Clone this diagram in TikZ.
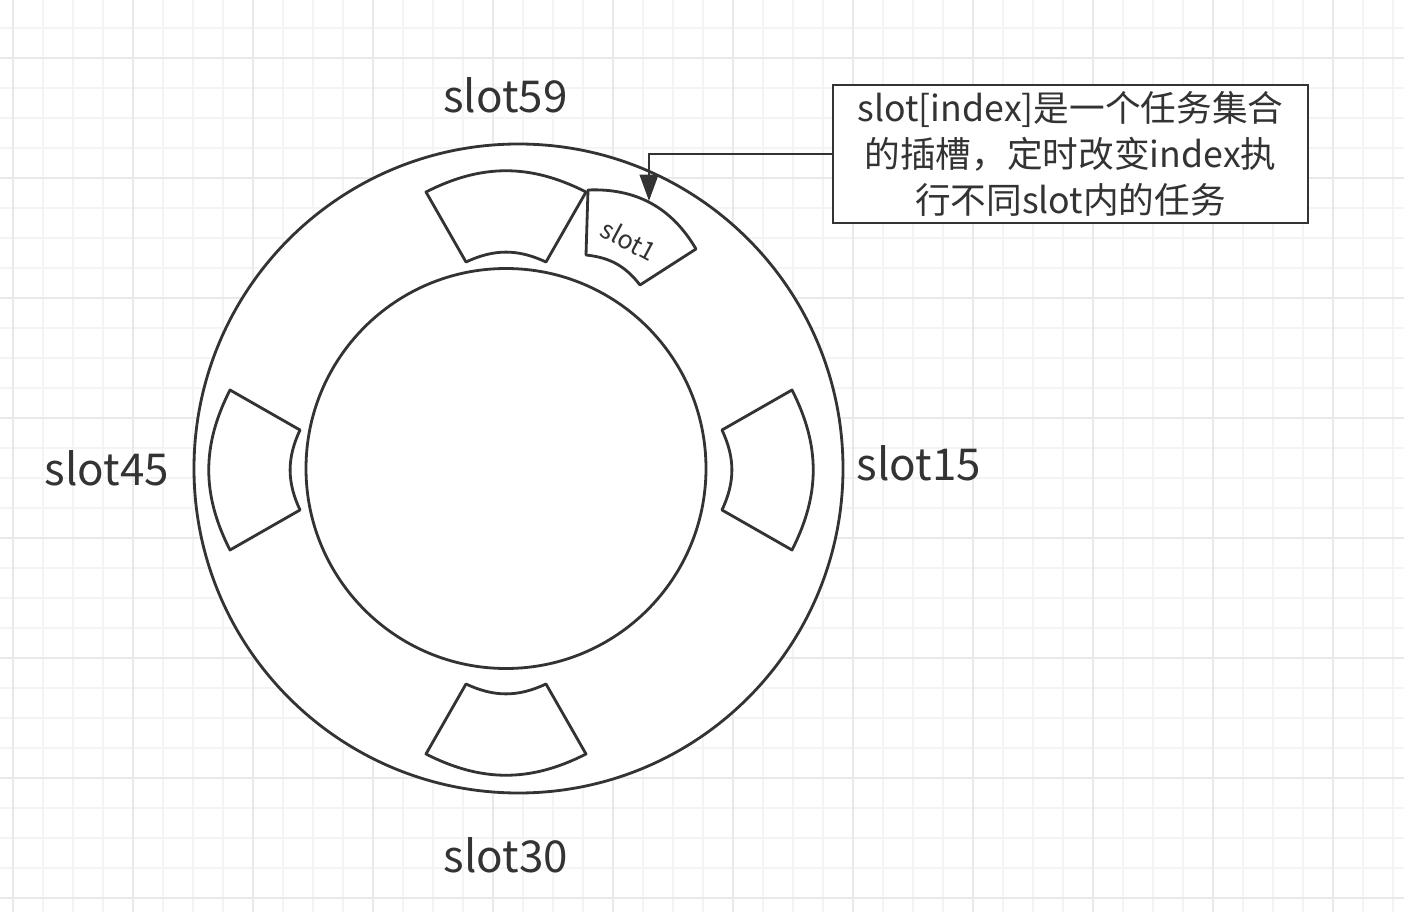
\documentclass[tikz,border=0pt]{standalone}
\usepackage{fontspec}
\setmainfont{Noto Sans CJK SC}
\usetikzlibrary{arrows.meta}
\definecolor{ink}{HTML}{333333}

\begin{document}
\begin{tikzpicture}[x=0.02cm,y=-0.02cm,line width=1.6pt,color=ink]
	  \tikzstyle{gridline}=[draw=gray!9,line width=1pt]
	  \tikzstyle{gridmajor}=[draw=gray!17,line width=1pt]
	  \tikzstyle{ring}=[draw=ink,fill=white,line join=round]
	  \tikzstyle{slotname}=[anchor=base,font=\fontsize{25}{28}\selectfont]
	  \tikzstyle{note}=[draw=ink,fill=white,inner sep=0pt,align=center,minimum width=9.5cm,minimum height=2.76cm,font=\fontsize{20.3}{26.4}\selectfont]

	  \useasboundingbox (0,0) rectangle (1404,912);
	  % background grid
	  \foreach \x in {13,43,...,1403} \draw[gridline] (\x,0) -- (\x,912);
	  \foreach \y in {28,58,...,898} \draw[gridline] (0,\y) -- (1404,\y);
	  \foreach \x in {13,133,...,1333} \draw[gridmajor] (\x,0) -- (\x,912);
	  \foreach \y in {58,178,...,898} \draw[gridmajor] (0,\y) -- (1404,\y);

	  % wheel
	  \coordinate (rim) at (518.5,468.5);
	  \coordinate (hub) at (506,468.5);
	  \draw[ring] (rim) circle[radius=324.5];
	  \draw[ring] (hub) circle[radius=200];

	  % slots 59, 30, 45, 15
	  \foreach \r/\cx/\cy in {0/506/473,180/506/473,90/511/470,-90/511/470}
	    \draw[ring,shift={(\cx,\cy)},rotate=\r] (-80,-281) to[bend left=27] (80,-281)
	      -- (40,-211) to[bend right=25] (-40,-211) -- cycle;
	  % slot 1
	  \draw[ring] (588,190) to[bend left=31] (696,249) -- (640,285) to[bend right=23] (586,255) -- cycle;
	  \node[rotate=-28,font=\fontsize{14.5}{16}\selectfont] (one) at (629,240) {slot1};

	  \node[slotname] (s59) at (505.5,113) {slot59};
	  \node[slotname] (s15) at (919,480) {slot15};
	  \node[slotname] (s30) at (506,872) {slot30};
	  \node[slotname] (s45) at (107,485) {slot45};

	  % callout
	  \node[note] (note) at (1070.5,154) {slot[index]是一个任务集合\\的插槽，定时改变index执\\行不同slot内的任务};
	  \coordinate (tip) at (649,201);
	  \draw[-{Triangle[length=15pt,width=10.5pt]}] (note.west) -| (tip);
	\end{tikzpicture}
\end{document}
